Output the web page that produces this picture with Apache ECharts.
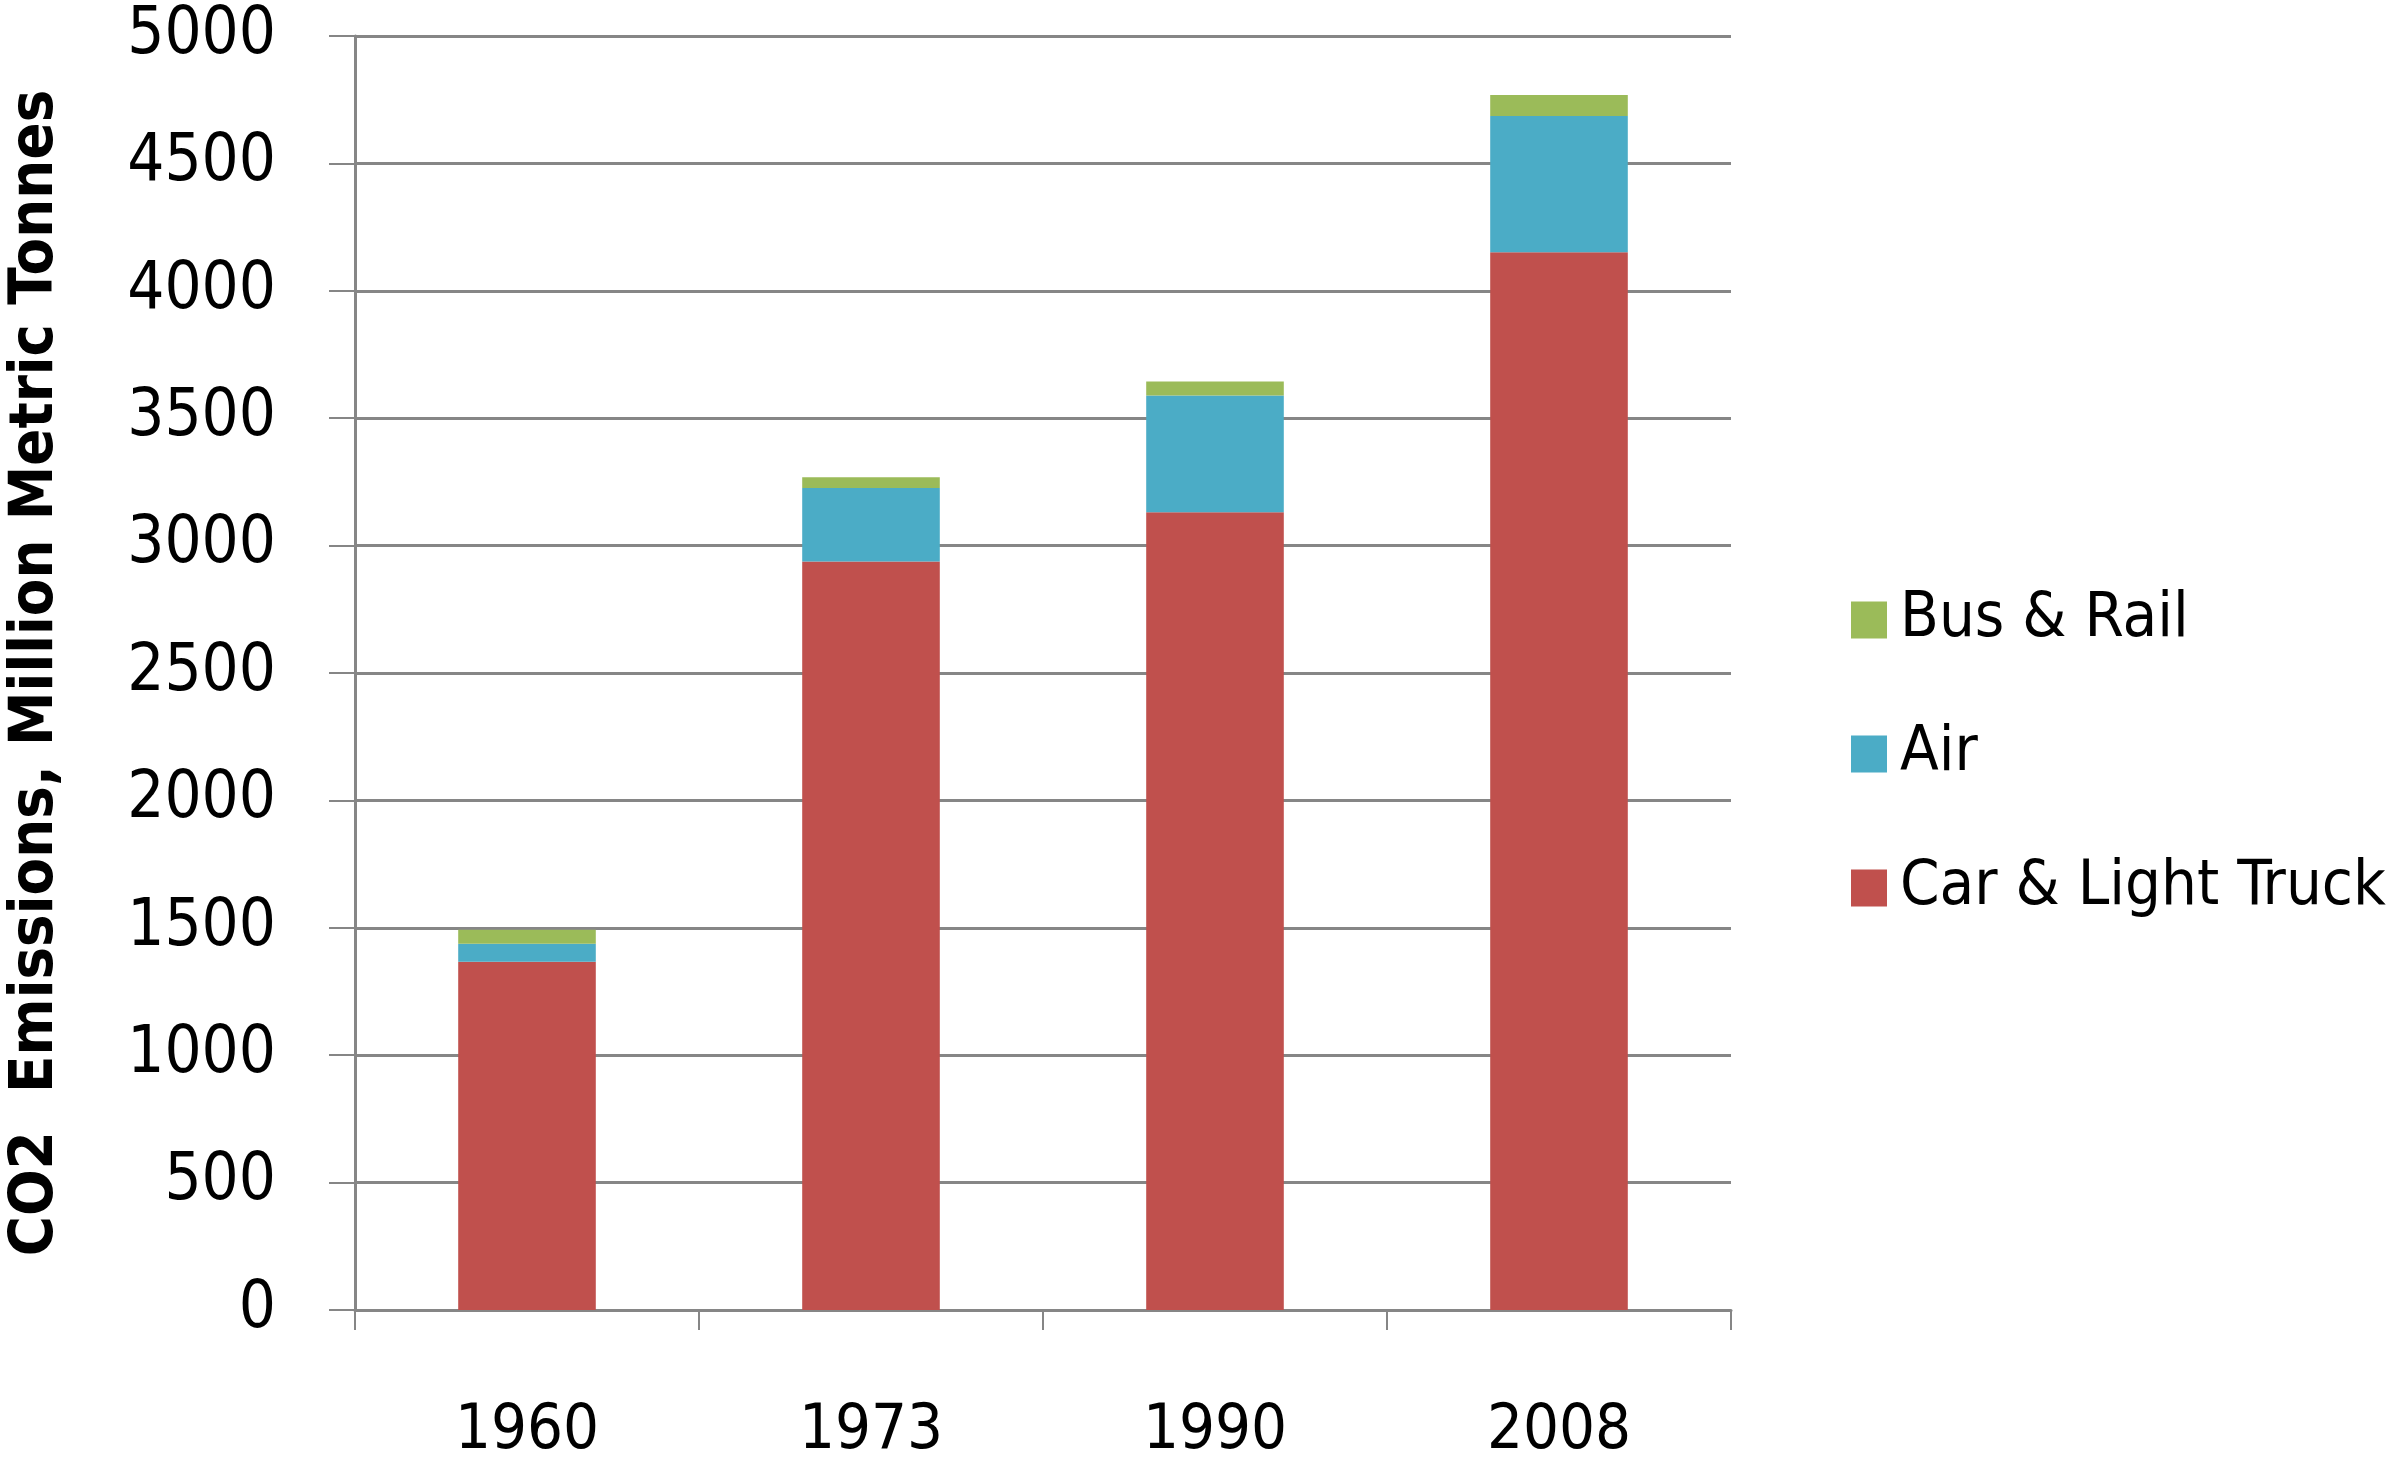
<!DOCTYPE html>
<html>
<head>
<meta charset="utf-8">
<script src="https://cdn.jsdelivr.net/npm/echarts@6/dist/echarts.min.js"></script>
<style>
html, body { margin: 0; padding: 0; background: #fff; }
#divChart { width: 2400px; height: 1462px; }
</style>
</head>
<body>
<div id="divChart"></div>
<script>
// chart data
var years = ['1960', '1973', '1990', '2008'];
var carTruck = [1367, 2938, 3131, 4151];
var air = [70, 288, 458, 535];
var busRail = [55, 42, 55, 82];
var legendNames = ['Bus & Rail', 'Air', 'Car & Light Truck'];

var fontName = "'DejaVu Sans Condensed', 'Open Sans', sans-serif";
var gray = '#868686';

var myChart = echarts.init(document.getElementById('divChart'));
var option = {
    backgroundColor: '#fff',
    animation: false,
    textStyle: { fontFamily: fontName, color: '#000' },
    grid: { left: 355, right: 669, top: 36, bottom: 152, containLabel: false, outerBoundsMode: 'none' },
    legend: {
        orient: 'vertical',
        left: 1846,
        top: 580,
        icon: 'rect',
        itemWidth: 36,
        itemHeight: 37,
        itemGap: 64,
        textStyle: { fontFamily: fontName, fontSize: 63, lineHeight: 70, color: '#000', padding: [0, 0, 0, 8] },
        data: legendNames
    },
    xAxis: {
        type: 'category',
        data: years,
        axisLine: { lineStyle: { color: gray, width: 3 } },
        axisTick: { show: true, length: 20, lineStyle: { color: gray, width: 2 } },
        axisLabel: { fontFamily: fontName, fontSize: 63, color: '#000', margin: 90 }
    },
    yAxis: {
        type: 'value',
        min: 0,
        max: 5000,
        interval: 500,
        name: 'CO2  Emissions, Million Metric Tonnes',
        nameLocation: 'middle',
        nameRotate: 90,
        nameGap: 288,
        nameTextStyle: { fontFamily: fontName, fontSize: 61, fontWeight: 'bold', color: '#000' },
        axisLine: { show: true, lineStyle: { color: gray, width: 3 } },
        axisTick: { show: true, length: 26, lineStyle: { color: gray, width: 2 } },
        axisLabel: {
            fontFamily: fontName, fontSize: 65, color: '#000', margin: 79,
            formatter: function (v) { return String(v); }
        },
        splitLine: { show: true, lineStyle: { color: gray, width: 3 } }
    },
    series: [
        {
            name: 'Car & Light Truck',
            type: 'bar',
            stack: 'total',
            barWidth: '40%',
            itemStyle: { color: '#C0504D' },
            data: carTruck
        },
        {
            name: 'Air',
            type: 'bar',
            stack: 'total',
            barWidth: '40%',
            itemStyle: { color: '#4BACC6' },
            data: air
        },
        {
            name: 'Bus & Rail',
            type: 'bar',
            stack: 'total',
            barWidth: '40%',
            itemStyle: { color: '#9BBB59' },
            data: busRail
        }
    ]
};
myChart.setOption(option);
</script>
</body>
</html>
